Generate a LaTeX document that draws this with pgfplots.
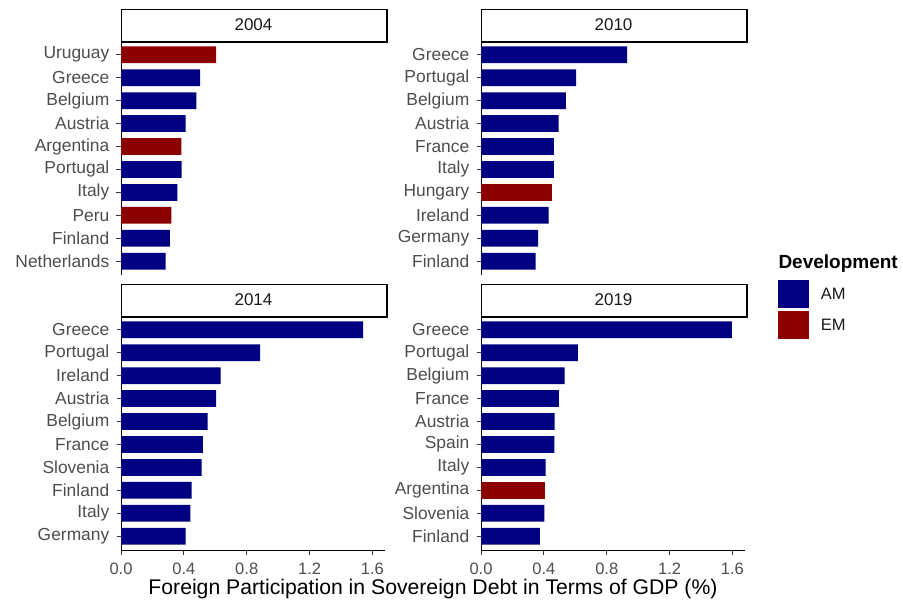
\documentclass[border=0pt]{standalone}
\usepackage{pgfplots}
\pgfplotsset{compat=1.18}
\usepackage{fontspec}
\setmainfont{Liberation Sans}
\definecolor{am}{RGB}{0,0,128}
\definecolor{em}{RGB}{139,0,0}
\definecolor{tickgrey}{RGB}{77,77,77}
\definecolor{stripgrey}{RGB}{26,26,26}
\definecolor{tickline}{RGB}{51,51,51}
\pgfplotsset{
  facet/.style={
    xbar, scale only axis, width=264bp, height=234bp,
    xmin=0, xmax=1.68, ymin=0.4, ymax=10.6,
    axis y line*=left,
    axis line style={-, line width=1bp, black},
    ytick={1,2,3,4,5,6,7,8,9,10},
    bar width=0.73, bar shift=0pt,
    tick align=outside, major tick length=4.5bp,
    tick style={tickline, line width=1bp},
    xtick={0,0.4,0.8,1.2,1.6}, xticklabels={0.0,0.4,0.8,1.2,1.6},
    ticklabel style={text=tickgrey},
    yticklabel style={inner sep=0pt, xshift=-7bp, font=\fontsize{17.4bp}{19bp}\selectfont},
    xticklabel style={inner sep=0pt, yshift=-8bp, font=\fontsize{16.5bp}{18bp}\selectfont},
    anchor=north west,
  },
  toprow/.style={facet, axis x line=none},
  botrow/.style={facet, axis x line*=bottom},
}
\begin{document}
\begin{tikzpicture}
\useasboundingbox (0,0) rectangle (903bp,-603bp);

% 2004
\begin{axis}[toprow, at={(121bp,-41bp)},
  yticklabels={Netherlands,Finland,Peru,Italy,Portugal,Argentina,Austria,Belgium,Greece,Uruguay}]
\addplot[fill=am, draw=none] coordinates {(0.284,1) (0.311,2) (0.358,4) (0.386,5) (0.411,7) (0.479,8) (0.504,9)};
\addplot[fill=em, draw=none] coordinates {(0.320,3) (0.384,6) (0.606,10)};
\end{axis}

% 2010
\begin{axis}[toprow, at={(481bp,-41bp)},
  yticklabels={Finland,Germany,Ireland,Hungary,Italy,France,Austria,Belgium,Portugal,Greece}]
\addplot[fill=am, draw=none] coordinates {(0.348,1) (0.364,2) (0.430,3) (0.463,5) (0.464,6) (0.494,7) (0.540,8) (0.606,9) (0.930,10)};
\addplot[fill=em, draw=none] coordinates {(0.449,4)};
\end{axis}

% 2014
\begin{axis}[botrow, at={(121bp,-316bp)},
  yticklabels={Germany,Italy,Finland,Slovenia,France,Belgium,Austria,Ireland,Portugal,Greece}]
\addplot[fill=am, draw=none] coordinates {(0.411,1) (0.441,2) (0.449,3) (0.513,4) (0.521,5) (0.551,6) (0.606,7) (0.634,8) (0.886,9) (1.540,10)};
\end{axis}

% 2019
\begin{axis}[botrow, at={(481bp,-316bp)},
  yticklabels={Finland,Slovenia,Argentina,Italy,Spain,Austria,France,Belgium,Portugal,Greece},
  legend style={at={(axis description cs:1.126,1.154)}, anchor=north west, draw=none, fill=none,
    inner sep=0pt, row sep=3bp, nodes={inner sep=0pt, font=\fontsize{16.5bp}{18bp}\selectfont, text=stripgrey}},
  legend cell align=left,
  /tikz/every odd column/.append style={column sep=11.7bp}]
\addplot[fill=am, draw=none, legend image code/.code={\fill[am] (0bp,-14bp) rectangle (30.7bp,14bp);}]
  coordinates {(0.375,1) (0.403,2) (0.411,4) (0.467,5) (0.468,6) (0.496,7) (0.532,8) (0.617,9) (1.596,10)};
\addlegendentry{AM}
\addplot[fill=em, draw=none, legend image code/.code={\fill[em] (0bp,-14bp) rectangle (30.7bp,14bp);}]
  coordinates {(0.410,3)};
\addlegendentry{EM}
\end{axis}

% strips
\foreach \x/\lab/\yt/\yb in {121/2004/-9/-41, 481/2010/-9/-41, 121/2014/-284/-316, 481/2019/-284/-316}{
  \fill[white] (\x bp,\yt bp) rectangle ({\x bp+265bp},\yb bp);
  \draw[black, line width=1bp] (\x bp,\yt bp) rectangle ({\x bp+265bp},\yb bp);
  \draw[black, line width=1.2bp] ({\x bp+265.9bp},\yt bp) -- ({\x bp+265.9bp},{\yb bp-0.9bp}) -- (\x bp,{\yb bp-0.9bp});
  \node[font=\fontsize{17bp}{19bp}\selectfont, text=stripgrey] at ({\x bp+132.5bp},{(\yt bp+\yb bp)/2}) {\lab};
}

% axis title
\node[font=\fontsize{21.2bp}{24bp}\selectfont, text=black] at (433bp,-589bp)
  {Foreign Participation in Sovereign Debt in Terms of GDP (\%)};
% legend title
\node[anchor=west, inner sep=0pt, font=\bfseries\fontsize{19bp}{21bp}\selectfont] at (778.3bp,-263.3bp) {Development};
\end{tikzpicture}
\end{document}
